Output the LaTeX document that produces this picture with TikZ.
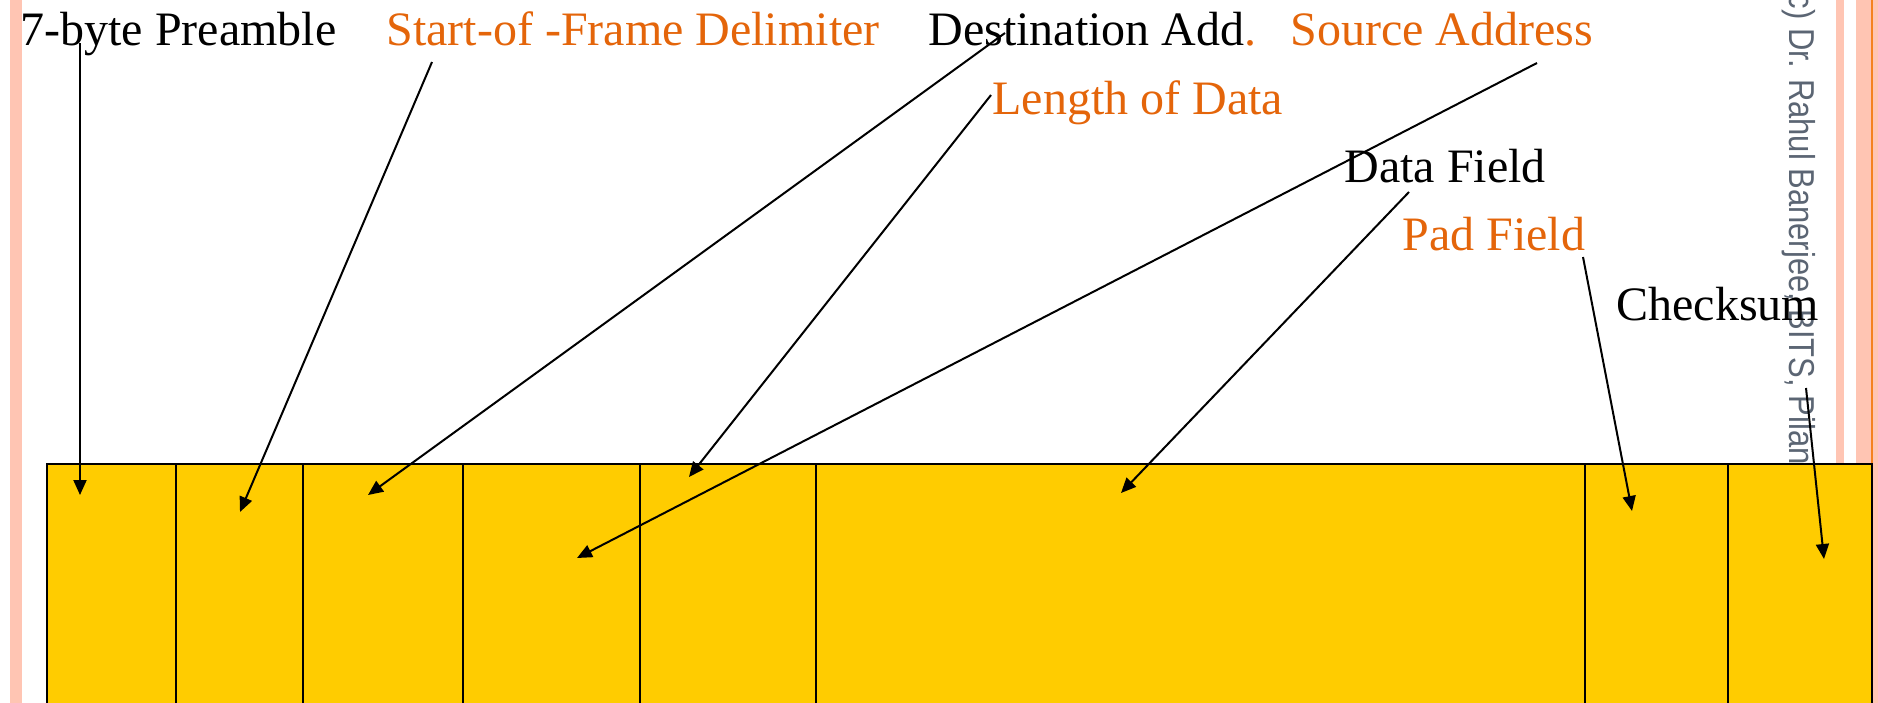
\documentclass[tikz,border=0pt]{standalone}
\usepackage{fontspec}
\setmainfont{Liberation Serif}
\newfontfamily\wmfont{Liberation Sans}
\usetikzlibrary{arrows.meta}
\definecolor{stripe}{HTML}{FFC5B3}
\definecolor{edgeorange}{HTML}{F5821F}
\definecolor{fieldyellow}{HTML}{FFCC00}
\definecolor{lblorange}{HTML}{E4650A}
\definecolor{wmgray}{HTML}{5B6573}
\tikzset{
  lbl/.style={inner sep=0pt, anchor=base west, font=\fontsize{24}{28}\selectfont},
  olbl/.style={lbl, text=lblorange},
  arr/.style={line width=1pt, -{Triangle[length=7.5pt,width=6.5pt]}},
  fieldbox/.style={fill=fieldyellow, draw=black, line width=1pt},
  divider/.style={draw=black, line width=1pt}
}
\begin{document}
\begin{tikzpicture}[x=0.5pt,y=-0.5pt]
\useasboundingbox (0,0) rectangle (1878,702);
\clip (0,0) rectangle (1878,702);
% side stripes
\fill[stripe] (10,-5) rectangle (22,710);
\fill[stripe] (1836,-5) rectangle (1844,710);
\fill[stripe] (1856,-5) rectangle (1871,710);
\fill[stripe] (1873,-5) rectangle (1885,710);
\fill[edgeorange] (1871,-5) rectangle (1873,710);
% watermark
\node[inner sep=0pt, anchor=base west, rotate=-90, text=wmgray, font=\wmfont\fontsize{18}{20}\selectfont] (wm) at (1789,-17) {\scalebox{0.86}[1]{(c) Dr. Rahul Banerjee, BITS, Pilani}};
% frame fields
\filldraw[fieldbox] (47,464) rectangle (1872,720);
\foreach \xx in {176,303,463,640,816,1585,1728}
  \draw[divider] (\xx,464) -- (\xx,720);
% labels
\node[lbl] (pre) at (20,45) {7-byte Preamble};
\node[olbl] (sfd) at (386,45) {Start-of -Frame Delimiter};
\node[lbl] (dst) at (928,45) {Destination Add\textcolor{lblorange}{.}};
\node[olbl] (src) at (1290,45) {Source Address};
\node[olbl] (len) at (992,114) {Length of Data};
\node[lbl] (dat) at (1344,182) {Data Field};
\node[olbl] (pad) at (1402,250) {Pad Field};
\node[lbl] (chk) at (1616,320) {Checksum};
% connector end points
\coordinate (s1) at (80,43);    \coordinate (e1) at (80,495);
\coordinate (s2) at (432,62);   \coordinate (e2) at (240,512);
\coordinate (s3) at (1005,33);  \coordinate (e3) at (368,495);
\coordinate (s4) at (991,95);   \coordinate (e4) at (689,477);
\coordinate (s5) at (1537,63);  \coordinate (e5) at (577,558);
\coordinate (s6) at (1409,192); \coordinate (e6) at (1121,493);
\coordinate (s7) at (1583,257); \coordinate (e7) at (1632,511);
\coordinate (s8) at (1806,388); \coordinate (e8) at (1824,559);
\draw[arr] (s1) -- (e1);
\draw[arr] (s2) -- (e2);
\draw[arr] (s3) -- (e3);
\draw[arr] (s4) -- (e4);
\draw[arr] (s5) -- (e5);
\draw[arr] (s6) -- (e6);
\draw[arr] (s7) -- (e7);
\draw[arr] (s8) -- (e8);
\end{tikzpicture}
\end{document}
